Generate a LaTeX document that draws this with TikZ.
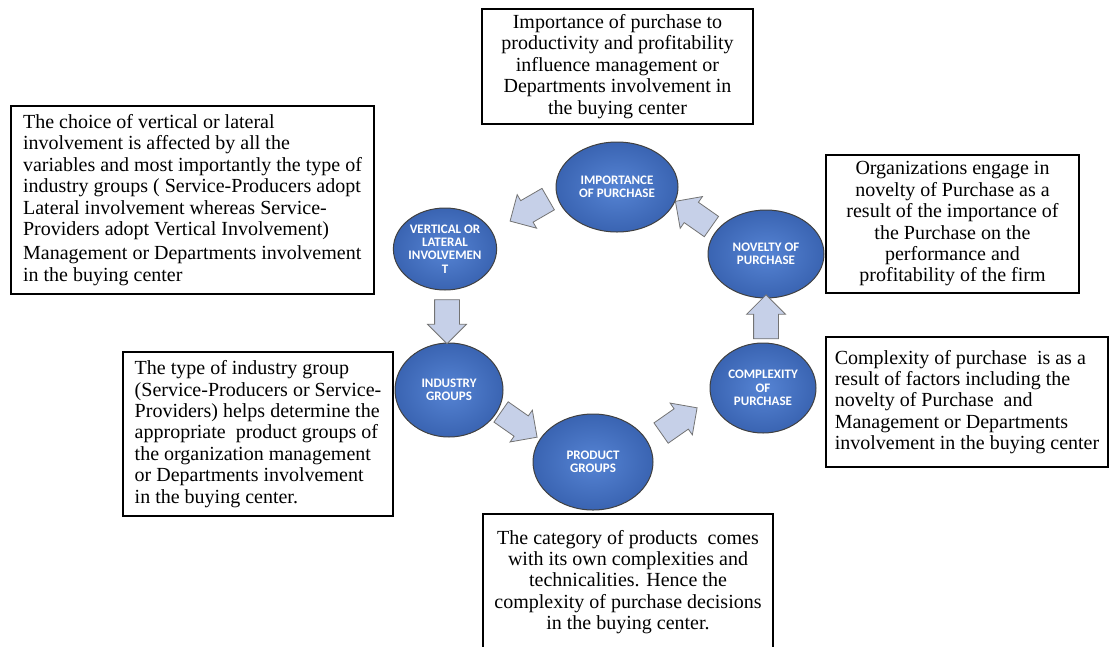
\documentclass[tikz,border=0pt]{standalone}
\usepackage{fontspec}
\setmainfont{Liberation Serif}
\newfontfamily\ballfont{Carlito}
\usepackage{xcolor}
\usepackage{tikz}
\definecolor{ballcolor}{RGB}{86,132,212}
\definecolor{ballrim}{RGB}{58,100,178}
\definecolor{arrowcolor}{RGB}{198,208,232}
\usetikzlibrary{shapes.geometric, shapes.arrows, calc}

\begin{document}
\begin{tikzpicture}[
    x=1pt, y=-1pt,
    ball/.style={ellipse, draw=black!75, line width=1pt, inner color=ballcolor, outer color=ballrim, text=white, font=\ballfont\fontsize{13}{13.4}\selectfont\bfseries, align=center, inner sep=0pt},
    textbox/.style={rectangle, draw, line width=1.2pt, inner sep=4pt, font=\fontsize{20}{21.4}\selectfont},
    flow/.style={single arrow, draw=black!55, fill=arrowcolor, line width=0.8pt, minimum height=44pt, minimum width=0pt, single arrow head extend=7pt, inner xsep=0pt, inner ysep=12pt}
]
    \useasboundingbox (0,0) rectangle (1110,646);
    \clip (0,0) rectangle (1110,646);

    % Ellipses
    \node[ball, minimum width=122pt, minimum height=90pt] (imp) at (617,187) {IMPORTANCE\\OF PURCHASE};
    \node[ball, minimum width=103pt, minimum height=82pt] (vert) at (445,249) {VERTICAL OR\\LATERAL\\INVOLVEMEN\\T};
    \node[ball, minimum width=116pt, minimum height=88pt] (nov) at (766,254) {NOVELTY OF\\PURCHASE};
    \node[ball, minimum width=108pt, minimum height=94pt] (ind) at (449,390) {INDUSTRY\\GROUPS};
    \node[ball, minimum width=120pt, minimum height=96pt] (prod) at (593,462) {PRODUCT\\GROUPS};
    \node[ball, minimum width=106pt, minimum height=90pt] (comp) at (763,388) {COMPLEXITY\\OF\\PURCHASE};

    % Arrows
    \node[flow, rotate=210] (imp2vert) at ($(imp)!0.5!(vert)+(3.5,-11)$) {};
    \node[flow, rotate=145] (nov2imp) at ($(nov)!0.5!(imp)+(7,-3)$) {};
    \node[flow, rotate=90] (comp2nov) at ($(comp)!0.5!(nov)+(1.5,2)$) {};
    \node[flow, rotate=35] (prod2comp) at ($(prod)!0.5!(comp)+(-4,-1)$) {};
    \node[flow, rotate=-35] (ind2prod) at ($(ind)!0.5!(prod)+(-7,-5)$) {};
    \node[flow, rotate=-90] (vert2ind) at ($(vert)!0.5!(ind)+(0,-4)$) {};

    % Text boxes
    \node[textbox, minimum width=271pt, minimum height=115pt, align=center] (imptext) at (617.5,66.5) {
        Importance of purchase to\\
        productivity and profitability\\
        influence management or\\
        Departments involvement in\\
        the buying center
    };

    \node[textbox, minimum width=363pt, minimum height=188pt, align=left] (verttext) at (192.5,200) {
        The choice of vertical or lateral\\
        involvement is affected by all the\\
        variables and most importantly the type of\\
        industry groups ( Service-Producers adopt\\
        Lateral involvement whereas Service-\\
        Providers adopt Vertical Involvement)\\[3pt]
        Management or Departments involvement\\
        in the buying center
    };

    \node[textbox, minimum width=253pt, minimum height=138pt, align=center] (novtext) at (952.5,224) {
        Organizations engage in\\
        novelty of Purchase as a\\
        result of the importance of\\
        the Purchase on the\\
        performance and\\
        profitability of the firm
    };

    \node[textbox, minimum width=282pt, minimum height=130pt, align=left] (comptext) at (967,402) {
        Complexity of purchase\ \ is as a\\
        result of factors including the\\
        novelty of Purchase\ \ and\\
        Management or Departments\\
        involvement in the buying center
    };

    \node[textbox, minimum width=270pt, minimum height=164pt, align=left] (indtext) at (258,434) {
        The type of industry group\\
        (Service-Producers or Service-\\
        Providers) helps determine the\\
        appropriate\ \ product groups of\\
        the organization management\\
        or Departments involvement\\
        in the buying center.
    };

    \node[textbox, minimum width=290pt, minimum height=136pt, align=center] (prodtext) at (628,582) {
        The category of products\ \ comes\\
        with its own complexities and\\
        technicalities. Hence the\\
        complexity of purchase decisions\\
        in the buying center.
    };
\end{tikzpicture}
\end{document}
